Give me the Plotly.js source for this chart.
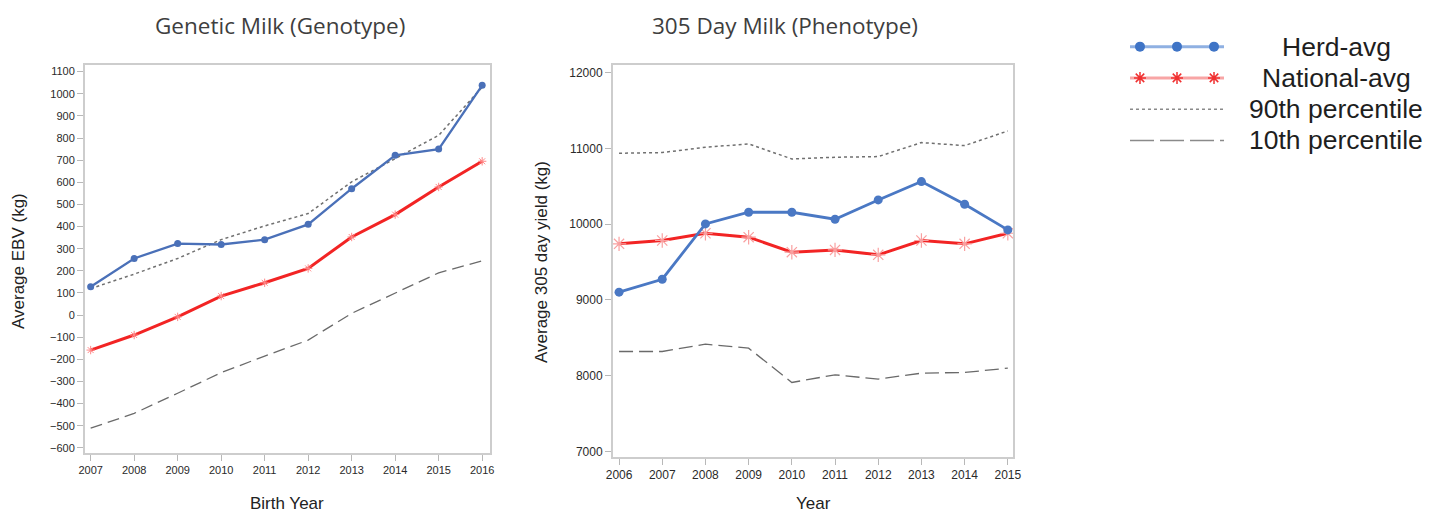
<!DOCTYPE html>
<html><head><meta charset="utf-8">
<script src="https://cdn.plot.ly/plotly-3.0.1.min.js"></script>
<style>html,body{margin:0;padding:0;background:#fff}#chart{width:1429px;height:514px}</style>
</head><body><div id="chart"></div>
<script>
const W = 1429, H = 514;

// ---- Data: Genetic Milk (Genotype) ----
const birthYears = [2007, 2008, 2009, 2010, 2011, 2012, 2013, 2014, 2015, 2016];
const genoHerdAvg = [128, 256, 323, 319, 341, 410, 571, 722, 750, 1038];
const genoNationalAvg = [-158, -90, -8, 86, 146, 211, 353, 454, 579, 695];
const geno90th = [120, 185, 256, 341, 403, 459, 602, 707, 812, 1030];
const geno10th = [-511, -444, -353, -260, -185, -113, 8, 101, 191, 245];

// ---- Data: 305 Day Milk (Phenotype) ----
const years = [2006, 2007, 2008, 2009, 2010, 2011, 2012, 2013, 2014, 2015];
const phenoHerdAvg = [9102, 9273, 10003, 10157, 10157, 10065, 10320, 10562, 10263, 9924];
const phenoNationalAvg = [9740, 9784, 9880, 9828, 9630, 9660, 9595, 9784, 9740, 9880];
const pheno90th = [10936, 10945, 11015, 11059, 10861, 10883, 10892, 11077, 11037, 11230];
const pheno10th = [8319, 8319, 8416, 8363, 7910, 8011, 7954, 8033, 8042, 8099];

// ---- Legend labels ----
const legendLabels = ['Herd-avg', 'National-avg', '90th percentile', '10th percentile'];

const px = v => v / W;
const py = v => 1 - v / H;

const BLUE = '#4a78c4', RED = '#f22424', GRAY_DOT = '#707070', GRAY_DASH = '#6a6a6a';

const traces = [
  // left chart
  {x: birthYears, y: geno90th, mode: 'lines', line: {color: GRAY_DOT, width: 1.5, dash: 'dot'}, xaxis: 'x', yaxis: 'y'},
  {x: birthYears, y: geno10th, mode: 'lines', line: {color: GRAY_DASH, width: 1.3, dash: '12px,6px'}, xaxis: 'x', yaxis: 'y'},
  {x: birthYears, y: genoNationalAvg, mode: 'lines+markers', line: {color: RED, width: 3},
   marker: {symbol: 'asterisk-open', size: 7, color: '#f88', line: {color: '#f77', width: 1}}, xaxis: 'x', yaxis: 'y'},
  {x: birthYears, y: genoHerdAvg, mode: 'lines+markers', line: {color: '#4a70b8', width: 2.3},
   marker: {symbol: 'circle', size: 7, color: '#4a70b8'}, xaxis: 'x', yaxis: 'y'},
  // right chart
  {x: years, y: pheno90th, mode: 'lines', line: {color: GRAY_DOT, width: 1.5, dash: 'dot'}, xaxis: 'x2', yaxis: 'y2'},
  {x: years, y: pheno10th, mode: 'lines', line: {color: GRAY_DASH, width: 1.3, dash: '14px,6px'}, xaxis: 'x2', yaxis: 'y2'},
  {x: years, y: phenoNationalAvg, mode: 'lines+markers', line: {color: RED, width: 3},
   marker: {symbol: 'asterisk-open', size: 12, color: '#f9a0a0', line: {color: '#f9a0a0', width: 1.2}}, xaxis: 'x2', yaxis: 'y2'},
  {x: years, y: phenoHerdAvg, mode: 'lines+markers', line: {color: BLUE, width: 2.8},
   marker: {symbol: 'circle', size: 9, color: BLUE}, xaxis: 'x2', yaxis: 'y2'},
];

// legend glyphs (drawn on a hidden helper axis)
const lgX = [-0.27, 2.27];
const lgM = [0, 1, 2];
traces.push(
  {x: lgX, y: [0, 0], mode: 'lines', line: {color: '#8fb0e2', width: 3}, xaxis: 'x3', yaxis: 'y3'},
  {x: lgM, y: [0, 0, 0], mode: 'markers', marker: {symbol: 'circle', size: 10, color: '#3f74c6'}, xaxis: 'x3', yaxis: 'y3'},
  {x: lgX, y: [1, 1], mode: 'lines', line: {color: '#f8a5a5', width: 3}, xaxis: 'x3', yaxis: 'y3'},
  {x: lgM, y: [1, 1, 1], mode: 'markers', marker: {symbol: 'asterisk-open', size: 10, color: '#f03030', line: {color: '#f03030', width: 1.5}}, xaxis: 'x3', yaxis: 'y3'},
  {x: lgX, y: [2, 2], mode: 'lines', line: {color: '#8a8a8a', width: 1.5, dash: 'dot'}, xaxis: 'x3', yaxis: 'y3'},
  {x: lgX, y: [3, 3], mode: 'lines', line: {color: '#8a8a8a', width: 1.5, dash: '24px,6px'}, xaxis: 'x3', yaxis: 'y3'}
);

const axBase = {
  showline: true, mirror: true, linecolor: '#cdcdcd', linewidth: 2,
  ticks: 'outside', ticklen: 6, tickwidth: 1, tickcolor: '#b8b8b8',
  showgrid: false, zeroline: false, fixedrange: true, tickformat: 'd',
  tickfont: {family: 'Liberation Sans, Arial, sans-serif', size: 11, color: '#2a2a2a'}
};

const annFont = {family: 'Liberation Sans, Arial, sans-serif', color: '#222'};
const titleFont = {family: 'Open Sans, Lato, sans-serif', size: 22.5, color: '#3e3e3e'};

const annotations = [
  {text: 'Genetic Milk (Genotype)', x: px(280), y: py(25), font: titleFont},
  {text: '305 Day Milk (Phenotype)', x: px(785), y: py(25), font: titleFont},
  {text: 'Average EBV (kg)', x: px(18), y: py(261), textangle: -90, font: Object.assign({size: 17}, annFont)},
  {text: 'Birth Year', x: px(287), y: py(503), font: Object.assign({size: 17}, annFont)},
  {text: 'Average 305 day yield (kg)', x: px(541), y: py(262), textangle: -90, font: Object.assign({size: 17}, annFont)},
  {text: 'Year', x: px(813), y: py(503), font: Object.assign({size: 17}, annFont)},
].map(a => Object.assign({xref: 'paper', yref: 'paper', xanchor: 'center', yanchor: 'middle', showarrow: false}, a));

const legendRowsY = [47, 78, 109, 140];
legendLabels.forEach((t, i) => annotations.push({
  text: t, x: px(1336), y: py(legendRowsY[i]), xref: 'paper', yref: 'paper',
  xanchor: 'center', yanchor: 'middle', showarrow: false,
  font: {family: 'Liberation Sans, Arial, sans-serif', size: 26.5, color: '#1e1e1e'}
}));

const layout = {
  width: W, height: H,
  margin: {l: 0, r: 0, t: 0, b: 0},
  paper_bgcolor: '#ffffff', plot_bgcolor: '#ffffff',
  showlegend: false,
  xaxis: Object.assign({}, axBase, {domain: [px(85), px(490)], range: [2006.87, 2016.18], tickvals: birthYears, anchor: 'y'}),
  yaxis: Object.assign({}, axBase, {domain: [py(453), py(65)], range: [-623, 1130], tick0: 0, dtick: 100, anchor: 'x'}),
  xaxis2: Object.assign({}, axBase, {domain: [px(613), px(1013)], range: [2005.86, 2015.12], tickvals: years, anchor: 'y2',
    tickfont: {family: 'Liberation Sans, Arial, sans-serif', size: 12, color: '#2a2a2a'}}),
  yaxis2: Object.assign({}, axBase, {domain: [py(457), py(65)], range: [6926, 12101], tick0: 0, dtick: 1000, anchor: 'x2',
    tickfont: {family: 'Liberation Sans, Arial, sans-serif', size: 12, color: '#2a2a2a'}}),
  xaxis3: {domain: [px(1130), px(1224)], range: [-0.27, 2.27], visible: false, fixedrange: true, anchor: 'y3'},
  yaxis3: {domain: [py(156), py(31)], range: [3.5, -0.5], visible: false, fixedrange: true, anchor: 'x3'},
  annotations: annotations
};

Plotly.newPlot('chart', traces, layout, {displayModeBar: false, staticPlot: true});
</script>
</body></html>
